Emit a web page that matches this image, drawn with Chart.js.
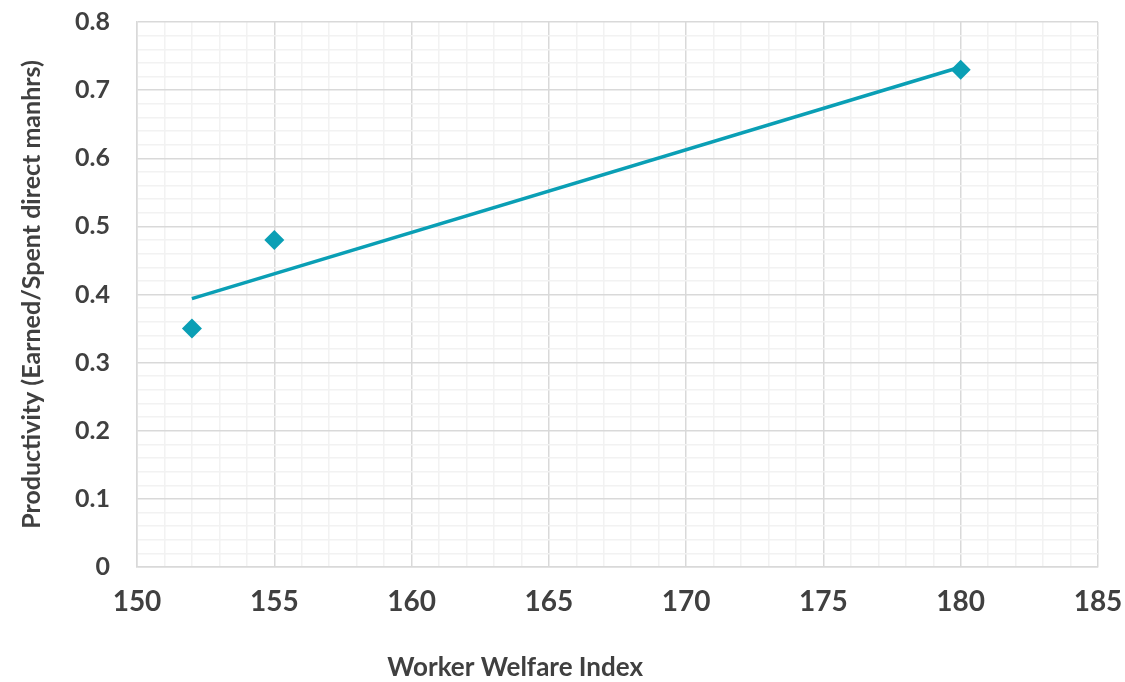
<!DOCTYPE html>
<html lang="en">
<head>
    <meta charset="UTF-8">
    <title>Worker Welfare Index vs Productivity</title>
    <style>
        body {
            margin: 0;
            background-color: #ffffff;
        }
        #chart-container {
            width: 1125px;
            height: 682px;
        }
    </style>
</head>
<body>

<div id="chart-container">
    <canvas id="welfareChart"></canvas>
</div>

<script src="https://cdn.jsdelivr.net/npm/chart.js"></script>

<script>
    // Values
    const welfareIndex = [152, 155, 180];
    const productivity = [0.35, 0.48, 0.73];

    // Trendline end points as drawn in the reference
    const trendX = [152, 180];
    const trendY = [0.394, 0.734];

    const xTitle = 'Worker Welfare Index';
    const yTitle = 'Productivity (Earned/Spent direct manhrs)';

    const teal = '#0a9fb5';
    const textColor = '#404040';
    const majorGrid = '#d9d9d9';
    const minorGrid = '#f2f2f2';

    const points = welfareIndex.map((x, i) => ({ x: x, y: productivity[i] }));
    const trend = trendX.map((x, i) => ({ x: x, y: trendY[i] }));

    function isMajorX(v) { return Math.round(v) % 5 === 0; }
    function isMajorY(v) { return Math.round(v * 100) % 10 === 0; }

    // draws the x axis title a bit left of centre, like the original
    const xTitlePlugin = {
        id: 'xTitle',
        afterDraw(chart) {
            const ctx = chart.ctx;
            const area = chart.chartArea;
            ctx.save();
            ctx.font = 'bold 26px Lato';
            ctx.fillStyle = textColor;
            ctx.textAlign = 'center';
            ctx.textBaseline = 'middle';
            ctx.fillText(xTitle, area.left + 0.3935 * (area.right - area.left), 668);
            ctx.restore();
        }
    };

    const ctx = document.getElementById('welfareChart').getContext('2d');
    new Chart(ctx, {
        type: 'scatter',
        data: {
            datasets: [
                {
                    label: 'Productivity',
                    data: points,
                    pointStyle: 'rectRot',
                    pointRadius: 10,
                    pointHoverRadius: 10,
                    backgroundColor: teal,
                    borderColor: teal,
                    borderWidth: 0,
                    order: 0
                },
                {
                    label: 'Trend',
                    data: trend,
                    showLine: true,
                    pointRadius: 0,
                    borderColor: teal,
                    borderWidth: 3.5,
                    fill: false,
                    order: 1
                }
            ]
        },
        options: {
            responsive: true,
            maintainAspectRatio: false,
            animation: false,
            layout: {
                padding: { left: 0, right: 27, top: 22, bottom: 0 }
            },
            plugins: {
                legend: { display: false },
                tooltip: { enabled: false }
            },
            scales: {
                x: {
                    type: 'linear',
                    min: 150,
                    max: 185,
                    afterFit: (scale) => {
                        scale.height = 115;
                        scale.paddingLeft = 0;
                        scale.paddingRight = 0;
                    },
                    ticks: {
                        stepSize: 1,
                        autoSkip: false,
                        maxRotation: 0,
                        padding: 18,
                        color: textColor,
                        font: { family: 'Lato', size: 28, weight: 'bold' },
                        callback: (v) => isMajorX(v) ? String(v) : ''
                    },
                    grid: {
                        drawTicks: false,
                        color: (c) => c.tick && isMajorX(c.tick.value) ? majorGrid : minorGrid,
                        lineWidth: 1.5
                    },
                    border: { color: majorGrid, width: 1.5 }
                },
                y: {
                    min: 0,
                    max: 0.8,
                    afterFit: (scale) => {
                        scale.width = 137;
                        scale.paddingTop = 0;
                        scale.paddingBottom = 0;
                    },
                    ticks: {
                        stepSize: 0.02,
                        autoSkip: false,
                        padding: 27,
                        color: textColor,
                        font: { family: 'Lato', size: 25, weight: 'bold' },
                        callback: (v) => {
                            if (!isMajorY(v)) return '';
                            return v === 0 ? '0' : v.toFixed(1);
                        }
                    },
                    grid: {
                        drawTicks: false,
                        color: (c) => c.tick && isMajorY(c.tick.value) ? majorGrid : minorGrid,
                        lineWidth: 1.5
                    },
                    border: { color: majorGrid, width: 1.5 },
                    title: {
                        display: true,
                        text: yTitle,
                        color: textColor,
                        font: { family: 'Lato', size: 25, weight: 'bold' },
                        padding: { top: 17, bottom: 0 }
                    }
                }
            }
        },
        plugins: [xTitlePlugin]
    });
</script>

</body>
</html>
